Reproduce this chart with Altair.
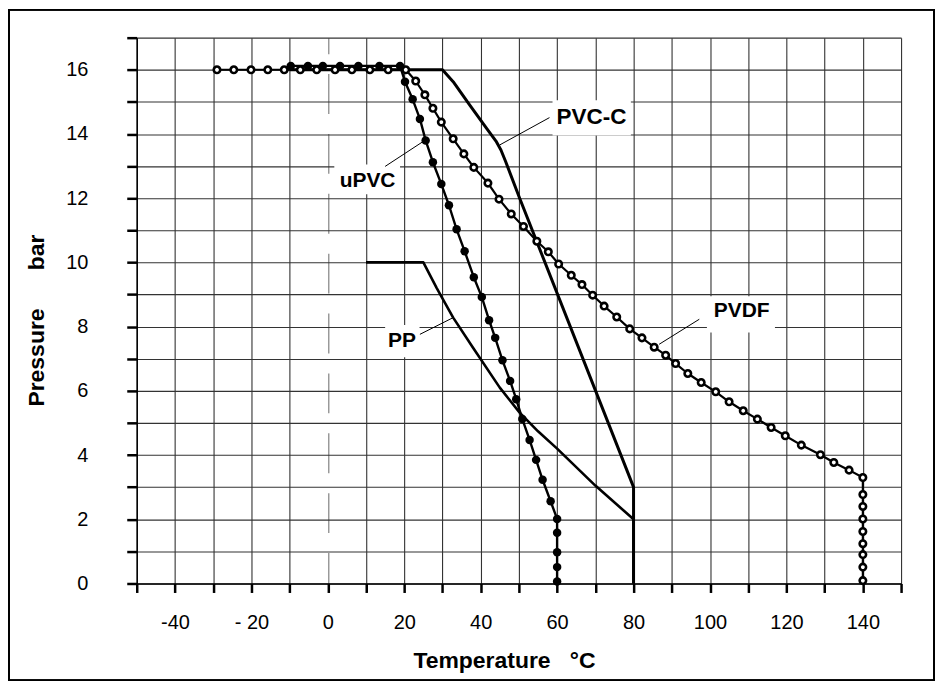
import altair as alt
import pandas as pd

W, H = 766, 547
FONT = "Liberation Sans"

# ---------------- data ----------------
pvdf_T = [-29, -24.6, -20.1, -15.7, -11.4, -7.2, -2.9, 1.9, 6.3, 11.0, 15.8, 20.4,
          23.0, 25.4, 27.5, 29.7, 32.8, 35.6, 38.2, 41.9, 44.8, 48.0, 51.2, 54.7,
          57.7, 60.4, 63.7, 66.5, 69.3, 72.3, 75.6, 79.0, 82.2, 85.4, 88.4, 91.0,
          94.2, 97.7, 101.5, 105.0, 108.7, 112.4, 116.0, 119.7, 123.9, 128.9,
          132.4, 136.4, 140,
          140, 140, 140, 140, 140, 140, 140, 140]
pvdf_P = [16] * 12 + [15.65, 15.22, 14.80, 14.37, 13.85, 13.38, 12.96, 12.47, 11.97,
                      11.51, 11.12, 10.66, 10.33, 9.95, 9.60, 9.31, 8.98, 8.64, 8.30,
                      7.93, 7.65, 7.36, 7.11, 6.85, 6.54, 6.26, 5.97, 5.66, 5.38, 5.12,
                      4.86, 4.60, 4.31, 4.01, 3.77, 3.53, 3.30,
                      2.77, 2.40, 2.01, 1.62, 1.24, 0.90, 0.51, 0.09]

upvc_T = [-9.7, -5.2, -1.3, 3.2, 8.0, 13.5, 18.9, 20.2, 22.2, 24.1, 25.6, 27.5, 29.7,
          31.7, 33.7, 35.8, 38.2, 40.3, 42.2, 43.8, 45.7, 47.7, 49.3, 50.9, 52.8, 54.5,
          56.2, 58.3, 60, 60, 60, 60, 60]
upvc_P = [16.12] * 7 + [15.63, 15.08, 14.47, 13.80, 13.12, 12.44, 11.78, 11.03, 10.35,
                        9.54, 8.92, 8.20, 7.65, 6.95, 6.31, 5.74, 5.12, 4.47, 3.85,
                        3.23, 2.56, 2.01, 1.58, 0.97, 0.51, 0.06]

pvcc_T = [-10, 30, 32.8, 37.1, 41.5, 44.0, 45.3, 46.5, 50.2, 80, 80]
pvcc_P = [16, 16, 15.63, 14.91, 14.18, 13.78, 13.50, 13.15, 12.0, 3, 0]

pp_T = [10, 25, 28.5, 32.8, 38, 45, 50.2, 55, 60, 70, 80, 80]
pp_P = [10, 10, 9.2, 8.28, 7.34, 6.1, 5.32, 4.74, 4.2, 3.05, 2.0, 0]

lab_text = ["PVC-C", "uPVC", "PP", "PVDF"]
lab_size = [22.5, 21, 21, 21]
lab_T = [69.0, 10.4, 19.4, 108.3]
lab_P = [14.54, 12.55, 7.55, 8.48]
box_T0 = [58.8, 1.7, 15.0, 99.2]
box_T1 = [79.3, 18.9, 24.0, 117.0]
box_P0 = [13.95, 12.12, 7.05, 7.82]
box_P1 = [15.05, 13.05, 8.05, 8.95]
lead_T0 = [45.0, 25.0, 32.8, 97.2]
lead_P0 = [13.66, 13.77, 8.28, 8.23]
lead_T1 = [58.0, 15.0, 24.1, 86.7]
lead_P1 = [14.51, 12.99, 7.76, 7.45]

x_ticks = list(range(-50, 151, 10))
y_ticks = list(range(0, 18))

# ---------------- tables ----------------
def series(T, P):
    return pd.DataFrame({"T": T, "P": P, "i": range(len(T))})

labels = pd.DataFrame({"text": lab_text, "fs": lab_size, "T": lab_T, "P": lab_P,
                       "bt0": box_T0, "bt1": box_T1, "bp0": box_P0, "bp1": box_P1,
                       "lt0": lead_T0, "lp0": lead_P0, "lt1": lead_T1, "lp1": lead_P1})

NB = "\u00a0"
x_label_expr = (
    "datum.value == -40 ? '-40" + NB * 2 + "' : "
    "datum.value == -20 ? '- 20" + NB * 2 + "' : "
    "(datum.value % 20 == 0 && datum.value >= 0 && datum.value <= 140) ? format(datum.value, 'd') : ''"
)

xaxis = alt.Axis(
    values=x_ticks, labelExpr=x_label_expr, title="Temperature" + NB * 3 + "°C",
    tickSize=9, tickWidth=2.5, tickColor="black", domainColor="black", domainWidth=1.5,
    labelFont=FONT, labelFontSize=20, labelColor="black", labelPadding=20,
    labelFlush=False, labelOverlap=False,
    grid=True,
    gridColor={"condition": {"test": "datum.value === 0", "value": "#777777"}, "value": "#333333"},
    gridDash={"condition": {"test": "datum.value === 0", "value": [40, 20]}, "value": [1, 0]},
    gridDashOffset=24, gridWidth=1.1,
    titleFont=FONT, titleFontSize=23, titleFontWeight="bold", titleColor="black",
    titleX=368, titleY=84, titleBaseline="alphabetic", titleAlign="center",
)
yaxis = alt.Axis(
    values=y_ticks, labelExpr="datum.value % 2 == 0 ? datum.label : ''",
    title="Pressure" + NB * 6 + "bar",
    tickSize=10, tickWidth=2.5, tickColor="black", domainColor="black", domainWidth=1.5,
    labelFont=FONT, labelFontSize=20, labelColor="black", labelPadding=39,
    labelFlush=False, labelOverlap=False,
    grid=True, gridColor="#333333", gridWidth=1.1,
    titleFont=FONT, titleFontSize=23, titleFontWeight="bold", titleColor="black",
    titleX=-93, titleY=283, titleBaseline="alphabetic", titleAlign="center", titleAngle=270,
)
xs = alt.Scale(domain=[-50, 150], nice=False, zero=False)
ys = alt.Scale(domain=[0, 17], nice=False, zero=False)

def enc(xf="T", yf="P"):
    return dict(x=alt.X(f"{xf}:Q", scale=xs, axis=xaxis),
                y=alt.Y(f"{yf}:Q", scale=ys, axis=yaxis))

frame = alt.Chart(labels).mark_rect(fill=None, stroke="black", strokeWidth=1.5).encode(
    x=alt.value(-128), x2=alt.value(W + 33), y=alt.value(-28), y2=alt.value(H + 97))

boxes = alt.Chart(labels).mark_rect(fill="white", stroke=None).encode(
    x=alt.X("bt0:Q", scale=xs, axis=xaxis), x2="bt1:Q",
    y=alt.Y("bp0:Q", scale=ys, axis=yaxis), y2="bp1:Q")

def line(df, w):
    return alt.Chart(df).mark_line(color="black", strokeWidth=w, strokeJoin="round").encode(
        **enc(), order="i:Q")

pvcc = line(series(pvcc_T, pvcc_P), 3)
pp = line(series(pp_T, pp_P), 2.6)
upvc_l = line(series(upvc_T, upvc_P), 2.4)
upvc_pts = alt.Chart(series(upvc_T, upvc_P)).mark_point(
    filled=True, color="black", size=72, opacity=1).encode(**enc())
pvdf_l = line(series(pvdf_T, pvdf_P), 2.2)
pvdf_pts = alt.Chart(series(pvdf_T, pvdf_P)).mark_point(
    fill="white", stroke="black", strokeWidth=2.6, size=42, opacity=1, filled=True).encode(**enc())

leaders = alt.Chart(labels).mark_rule(color="black", strokeWidth=1).encode(
    x=alt.X("lt0:Q", scale=xs, axis=xaxis), x2="lt1:Q",
    y=alt.Y("lp0:Q", scale=ys, axis=yaxis), y2="lp1:Q")

texts = alt.Chart(labels).mark_text(font=FONT, fontWeight="bold",
                                    color="black", align="center", baseline="middle").encode(
    **enc(), text="text:N", size=alt.Size("fs:Q", scale=None, legend=None))

chart = alt.layer(frame, boxes, pvcc, pp, upvc_l, upvc_pts, pvdf_l, pvdf_pts, leaders, texts).properties(
    width=W, height=H, padding=0
).configure_view(stroke=None)

chart.save("out.html", embed_options={"renderer": "svg", "actions": False})
